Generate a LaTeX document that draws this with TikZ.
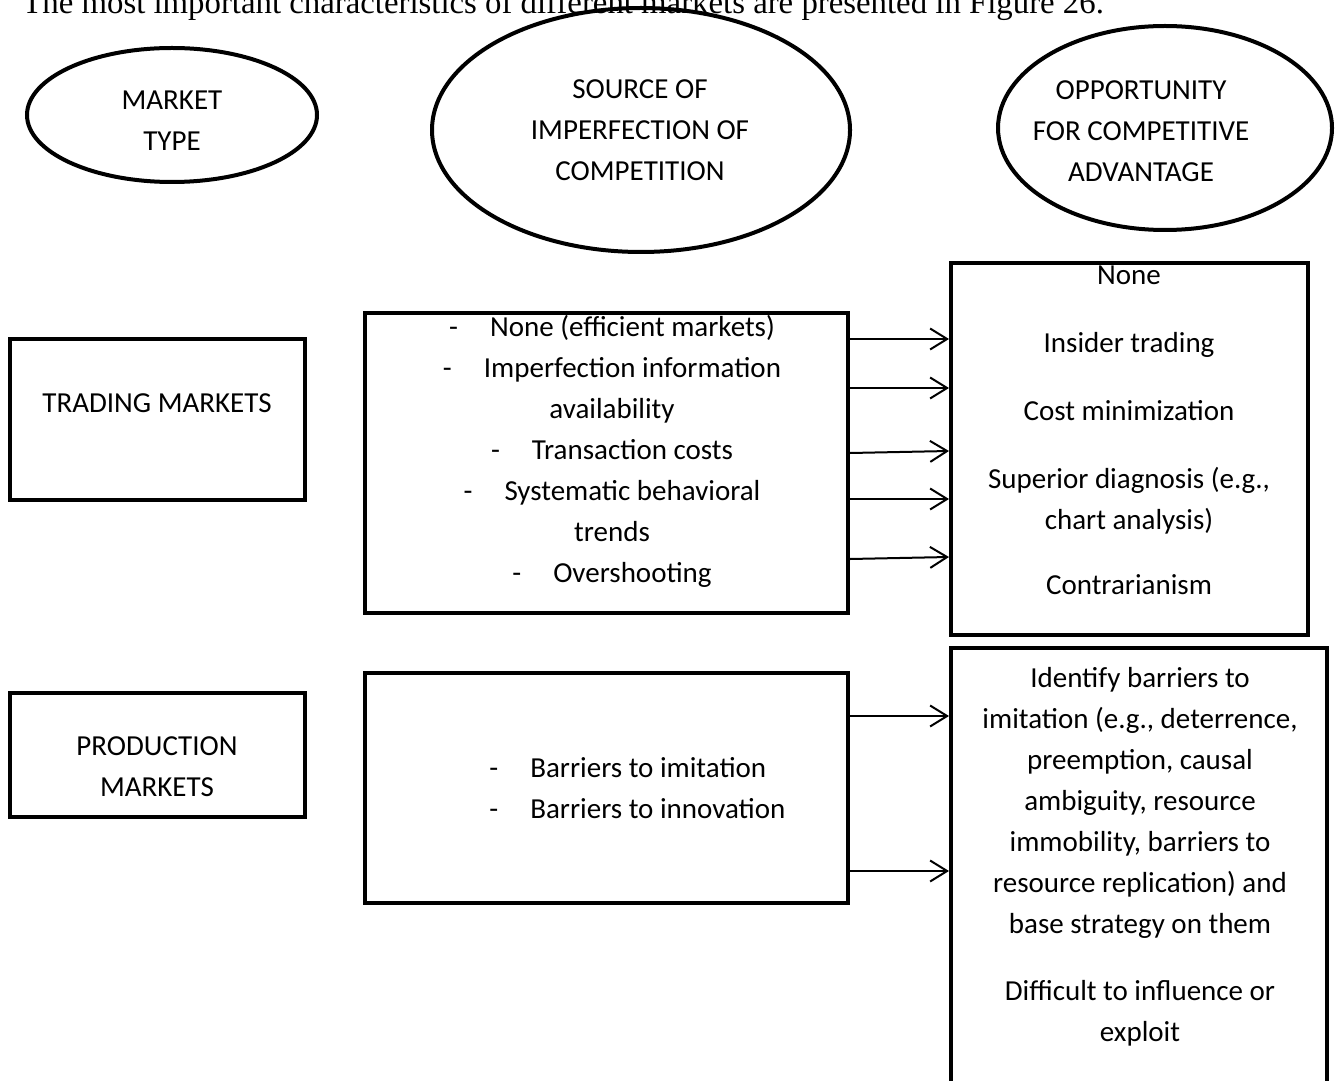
\documentclass[tikz,border=0pt]{standalone}
\usepackage{fontspec}
\setmainfont{Carlito}
\newfontfamily\bodyserif{Liberation Serif}
\usetikzlibrary{shapes.geometric,arrows.meta}
\begin{document}
\begin{tikzpicture}[x=0.5pt,y=-0.5pt,
  heading/.style={ellipse,draw,line width=2pt,inner sep=0pt},
  panel/.style={rectangle,draw,line width=2pt,inner sep=0pt},
  label/.style={align=center,inner sep=0pt,font=\fontsize{14.5}{20.5}\selectfont},
  link/.style={-{Straight Barb[length=8.5pt,width=10.5pt]},line width=1pt}]
\clip (0,0) rectangle (1336,1080);
\fill[white] (0,0) rectangle (1336,1080);

% running text above the figure
\node[anchor=base west,inner sep=0pt,font=\bodyserif\fontsize{16.4}{19}\selectfont] (intro) at (22,14)
  {The most important characteristics of different markets are presented in Figure 26.};

% column headings
\node[heading,minimum width=145pt,minimum height=67pt] (hmarket) at (172,115) {};
\node[label] (tmarket) at (172,121) {MARKET\\TYPE};
\node[heading,minimum width=209pt,minimum height=122pt] (hsource) at (641,130) {};
\node[label] (tsource) at (640,130) {SOURCE OF\\IMPERFECTION OF\\COMPETITION};
\node[heading,minimum width=167pt,minimum height=102pt] (hopp) at (1165,128) {};
\node[label] (topp) at (1141,131) {OPPORTUNITY\\FOR COMPETITIVE\\ADVANTAGE};

% trading markets row
\node[panel,minimum width=147.5pt,minimum height=80.5pt] (trade) at (157.5,419.5) {};
\node[label] (ttrade) at (157,403) {TRADING MARKETS};
\node[panel,minimum width=241.5pt,minimum height=150pt] (src1) at (606.5,463) {};
\node[label] (tsrc1) at (612,451) {-\hspace{16pt}None (efficient markets)\\
  -\hspace{16pt}Imperfection information\\availability\\
  -\hspace{16pt}Transaction costs\\
  -\hspace{16pt}Systematic behavioral\\trends\\
  -\hspace{16pt}Overshooting};
\node[panel,minimum width=178.5pt,minimum height=186pt] (opp1) at (1129.5,449) {};
\node[label] (topp1) at (1129,430) {None\\[13.5pt]Insider trading\\[13.5pt]Cost minimization\\[13.5pt]
  Superior diagnosis (e.g.,\\chart analysis)\\[12pt]Contrarianism};

% production markets row
\node[panel,minimum width=147.5pt,minimum height=62pt] (prod) at (157.5,755) {};
\node[label] (tprod) at (157,767) {PRODUCTION\\MARKETS};
\node[panel,minimum width=241.5pt,minimum height=115pt] (src2) at (606.5,788) {};
\node[label,align=left,anchor=west] (tsrc2) at (489,788) {-\hspace{16pt}Barriers to imitation\\-\hspace{16pt}Barriers to innovation};
\node[panel,minimum width=188pt,minimum height=226pt] (opp2) at (1139,874) {};
\node[label] (topp2) at (1140,857) {Identify barriers to\\imitation (e.g., deterrence,\\preemption, causal\\
  ambiguity, resource\\immobility, barriers to\\resource replication) and\\base strategy on them\\[13pt]
  Difficult to influence or\\exploit};

% connectors from sources to opportunities
\draw[link] (src1.east |- 0,339) -- (opp1.west |- 0,339);
\draw[link] (src1.east |- 0,388) -- (opp1.west |- 0,388);
\draw[link] (src1.east |- 0,453) -- (opp1.west |- 0,451);
\draw[link] (src1.east |- 0,499) -- (opp1.west |- 0,499);
\draw[link] (src1.east |- 0,559) -- (opp1.west |- 0,557);
\draw[link] (src2.east |- 0,716) -- (opp2.west |- 0,716);
\draw[link] (src2.east |- 0,871) -- (opp2.west |- 0,871);
\end{tikzpicture}
\end{document}
